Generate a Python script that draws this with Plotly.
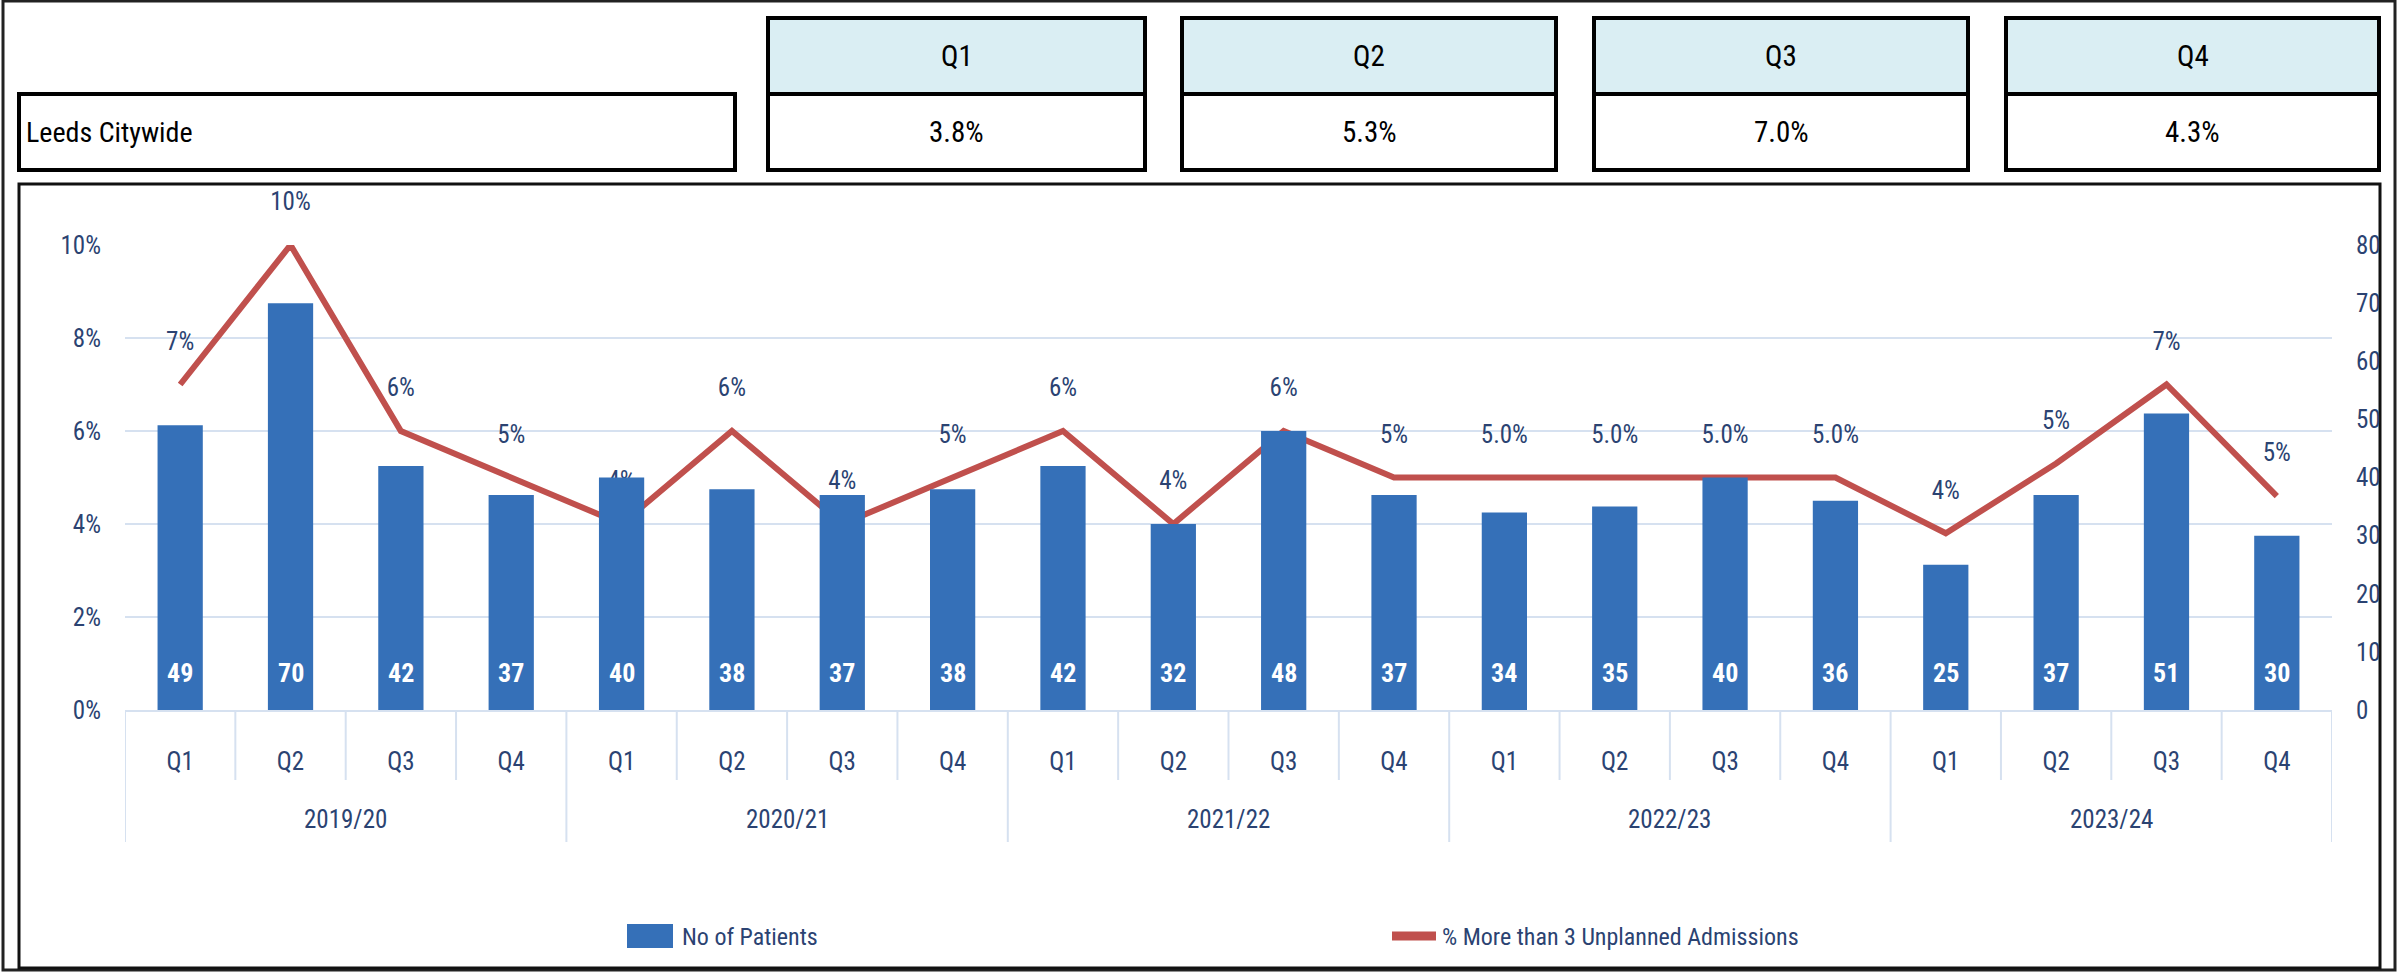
import plotly.graph_objects as go

# ---------------- data ----------------
years = ["2019/20", "2020/21", "2021/22", "2022/23", "2023/24"]
quarters = ["Q1", "Q2", "Q3", "Q4"]
patients = [49, 70, 42, 37, 40, 38, 37, 38, 42, 32, 48, 37, 34, 35, 40, 36, 25, 37, 51, 30]
pct_more_than_3 = [7.0, 10.0, 6.0, 5.0, 4.0, 6.0, 4.0, 5.0, 6.0, 4.0, 6.0, 5.0,
                   5.0, 5.0, 5.0, 5.0, 3.8, 5.3, 7.0, 4.6]
label_decimals = [0] * 12 + [1] * 4 + [0] * 4
table_row_label = "Leeds Citywide"
table_values = [3.8, 5.3, 7.0, 4.3]
series_names = ["No of Patients", "% More than 3 Unplanned Admissions"]

# ---------------- styles ----------------
W, H = 2399, 973
L, R, T, B = 125, 2332, 245, 710
FONT = "Liberation Sans Narrow, Arial Narrow, Roboto Condensed, sans-serif"
NAVY = "#2B4372"
BAR = "#3570B8"
LINE = "#C0504D"
GRID = "#D6E1F0"


def px(x):
    return (x - L) / (R - L)


def py(y):
    return (B - y) / (B - T)


n = len(patients)
xs = list(range(n))
qlabels = [quarters[i % 4] for i in xs]
line_text = [f"{v:.{d}f}%" for v, d in zip(pct_more_than_3, label_decimals)]

fig = go.Figure()

fig.add_trace(go.Bar(
    x=xs, y=patients, yaxis="y2", name=series_names[0],
    marker=dict(color=BAR, line=dict(width=0)),
    showlegend=False,
))

fig.add_trace(go.Scatter(
    x=xs, y=[v / 100 for v in pct_more_than_3], yaxis="y",
    name=series_names[1],
    mode="lines+markers+text",
    line=dict(color=LINE, width=6),
    marker=dict(size=44, color="rgba(0,0,0,0)"),
    text=line_text, textposition="top center",
    textfont=dict(family=FONT, size=25, color=NAVY),
    cliponaxis=False, showlegend=False,
))

shapes = []
annotations = []

# bar value labels at the base of each bar
for x, v in zip(xs, patients):
    annotations.append(dict(xref="x", yref="y2", x=x, y=0, yshift=37,
                            xanchor="center", yanchor="middle", showarrow=False,
                            text=f"<b>{v}</b>",
                            font=dict(family=FONT, size=26, color="white")))

# outer border and chart box
shapes.append(dict(type="rect", xref="paper", yref="paper",
                   x0=px(3), x1=px(2395), y0=py(1), y1=py(970),
                   line=dict(color="#222", width=3), layer="below"))
shapes.append(dict(type="rect", xref="paper", yref="paper",
                   x0=px(19), x1=px(2380), y0=py(184), y1=py(968),
                   line=dict(color="#111", width=3), layer="below"))

# summary table
shapes.append(dict(type="rect", xref="paper", yref="paper",
                   x0=px(19), x1=px(735), y0=py(94), y1=py(170),
                   line=dict(color="black", width=4), fillcolor="white"))
annotations.append(dict(xref="paper", yref="paper", x=px(24), y=py(132),
                        xanchor="left", yanchor="middle", showarrow=False,
                        text=table_row_label,
                        font=dict(family=FONT, size=28, color="black")))
box_x = [(768, 1145), (1182, 1556), (1594, 1968), (2006, 2379)]
for (x0, x1), q, v in zip(box_x, quarters, table_values):
    shapes.append(dict(type="rect", xref="paper", yref="paper",
                       x0=px(x0), x1=px(x1), y0=py(18), y1=py(94),
                       line=dict(color="black", width=4), fillcolor="#DAEEF3"))
    shapes.append(dict(type="rect", xref="paper", yref="paper",
                       x0=px(x0), x1=px(x1), y0=py(94), y1=py(170),
                       line=dict(color="black", width=4), fillcolor="white"))
    annotations.append(dict(xref="paper", yref="paper", x=px((x0 + x1) / 2), y=py(56),
                            xanchor="center", yanchor="middle",
                            showarrow=False, text=q,
                            font=dict(family=FONT, size=29, color="black")))
    annotations.append(dict(xref="paper", yref="paper", x=px((x0 + x1) / 2), y=py(132),
                            xanchor="center", yanchor="middle",
                            showarrow=False, text=f"{v:.1f}%",
                            font=dict(family=FONT, size=29, color="black")))

# category separators and year labels
for i in range(n + 1):
    is_year = i % 4 == 0
    shapes.append(dict(type="line", xref="x", yref="paper",
                       x0=i - 0.5, x1=i - 0.5, y0=0,
                       y1=py(842) if is_year else py(780),
                       line=dict(color=GRID, width=2)))
for k, yr in enumerate(years):
    annotations.append(dict(xref="x", yref="paper", x=4 * k + 1.5, y=py(819),
                            xanchor="center", yanchor="middle",
                            showarrow=False, text=yr,
                            font=dict(family=FONT, size=25, color=NAVY)))

# legend (drawn to match the wide swatches of the original)
shapes.append(dict(type="rect", xref="paper", yref="paper",
                   x0=px(627), x1=px(673), y0=py(948), y1=py(924),
                   line=dict(width=0), fillcolor=BAR))
annotations.append(dict(xref="paper", yref="paper", x=px(680), y=py(937),
                        xanchor="left", yanchor="middle", showarrow=False,
                        text=series_names[0],
                        font=dict(family=FONT, size=24, color=NAVY)))
shapes.append(dict(type="line", xref="paper", yref="paper",
                   x0=px(1392), x1=px(1436), y0=py(936), y1=py(936),
                   line=dict(color=LINE, width=9)))
annotations.append(dict(xref="paper", yref="paper", x=px(1440), y=py(937),
                        xanchor="left", yanchor="middle", showarrow=False,
                        text=series_names[1],
                        font=dict(family=FONT, size=24, color=NAVY)))

fig.update_layout(
    width=W, height=H,
    margin=dict(l=L, r=W - R, t=T, b=H - B, pad=0),
    paper_bgcolor="white", plot_bgcolor="white",
    font=dict(family=FONT, size=25, color=NAVY),
    bargap=0.59,
    showlegend=False,
    xaxis=dict(range=[-0.5, n - 0.5], tickmode="array", tickvals=xs, ticktext=qlabels,
               showgrid=False, zeroline=False, showline=True, linecolor=GRID, linewidth=2,
               ticks="", ticklabelstandoff=28,
               tickfont=dict(family=FONT, size=25, color=NAVY)),
    yaxis=dict(range=[0, 0.10], dtick=0.02, tickformat=".0%", showgrid=True,
               gridcolor=GRID, gridwidth=2, zeroline=False,
               ticks="outside", ticklen=18, tickcolor="rgba(0,0,0,0)",
               tickfont=dict(family=FONT, size=25, color=NAVY)),
    yaxis2=dict(range=[0, 80], dtick=10, overlaying="y", side="right", showgrid=False,
                zeroline=False, ticks="outside", ticklen=18, tickcolor="rgba(0,0,0,0)",
                tickfont=dict(family=FONT, size=25, color=NAVY)),
    shapes=shapes, annotations=annotations,
)

fig.write_html("out.html", config={"displayModeBar": False},
               post_script="document.body.style.margin='0px';")
